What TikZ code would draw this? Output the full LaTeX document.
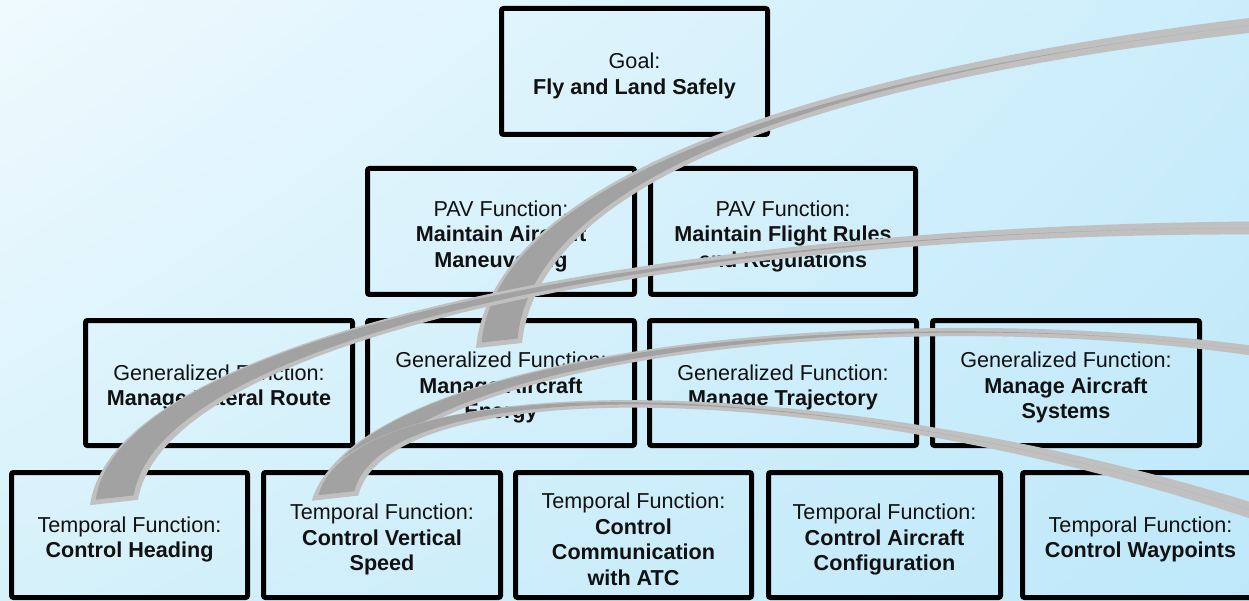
\documentclass[tikz,border=0pt]{standalone}
\usepackage{fontspec}
\setmainfont{Liberation Sans}
\usetikzlibrary{calc,shadings}

\definecolor{bgUL}{RGB}{239,250,254}
\definecolor{bgUR}{RGB}{203,237,251}
\definecolor{bgLL}{RGB}{214,241,250}
\definecolor{bgLR}{RGB}{190,232,250}
\definecolor{ribLight}{RGB}{192,192,192}
\definecolor{ribDark}{RGB}{162,162,162}
\definecolor{ink}{RGB}{17,17,17}

% Corner points of a tapered ribbon that follows the cubic (#1)..(#2)..(#3)..(#4):
% #5,#6,#7 = half widths at the first three control points,
% #8 = half width of the flat end, #9 = how far the flat end is pulled back.
\newcommand\ribbonpts[9]{%
  \path ($(#4)!#9pt!(#3)$) coordinate (rtip)
        ($(#1)!#5pt!90:(#2)$) coordinate (ra0)
        ($(#2)!#6pt!-90:(#1)$) coordinate (ra1)
        ($(#3)!#7pt!90:(rtip)$) coordinate (ra2)
        ($(rtip)+(#8,-0.11*#8)$) coordinate (ra3)
        ($(#1)!#5pt!-90:(#2)$) coordinate (rb0)
        ($(#2)!#6pt!90:(#1)$) coordinate (rb1)
        ($(#3)!#7pt!-90:(rtip)$) coordinate (rb2)
        ($(rtip)+(-#8,0.11*#8)$) coordinate (rb3);}
\newcommand\ribbonpath{(ra0) .. controls (ra1) and (ra2) .. (ra3) -- (rb3)
  .. controls (rb2) and (rb1) .. (rb0) -- cycle}

\tikzset{
  box/.style={draw=black, line width=5pt, rounded corners=2pt,
    minimum height=125pt, inner sep=0pt},
  lbl/.style={font=\fontsize{21.6}{25.5}\selectfont, align=center,
    text=ink, inner sep=0pt},
  riblight/.style={fill=ribLight},
  ribdark/.style={fill=ribDark},
}

\begin{document}
\begin{tikzpicture}[x=1pt, y=-1pt]
\useasboundingbox (0,0) rectangle (1249,601);
\clip (0,0) rectangle (1249,601);
\shade[upper left=bgUL, upper right=bgUR, lower left=bgLL, lower right=bgLR]
  (0,0) rectangle (1249,601);

% goal
\node[box, minimum width=266pt, minimum height=126pt] (goal) at (634.5,71.5) {};
\node[lbl] (goal-t) at ([yshift=-4.5pt]goal.center) {Goal:\\\textbf{Fly and Land Safely}};

% PAV functions
\node[box, minimum width=267pt, minimum height=126pt] (pav1) at (501,231.5) {};
\node[lbl] (pav1-t) at ([yshift=-4.5pt]pav1.center) {PAV Function:\\\textbf{Maintain Aircraft}\\\textbf{Maneuvering}};
\node[box, minimum width=265pt, minimum height=126pt] (pav2) at (783,231.5) {};
\node[lbl] (pav2-t) at ([yshift=-4.5pt]pav2.center) {PAV Function:\\\textbf{Maintain Flight Rules}\\\textbf{and Regulations}};

% generalized functions
\node[box, minimum width=267pt] (gen1) at (219,383) {};
\node[lbl] (gen1-t) at ([yshift=-4.5pt]gen1.center) {Generalized Function:\\\textbf{Manage Lateral Route}};
\node[box, minimum width=267pt] (gen2) at (501,383) {};
\node[lbl] (gen2-t) at ([yshift=-4.5pt]gen2.center) {Generalized Function:\\\textbf{Manage Aircraft}\\\textbf{Energy}};
\node[box, minimum width=267pt] (gen3) at (783,383) {};
\node[lbl] (gen3-t) at ([yshift=-4.5pt]gen3.center) {Generalized Function:\\\textbf{Manage Trajectory}};
\node[box, minimum width=267pt] (gen4) at (1066,383) {};
\node[lbl] (gen4-t) at ([yshift=-4.5pt]gen4.center) {Generalized Function:\\\textbf{Manage Aircraft}\\\textbf{Systems}};

% temporal functions
\node[box, minimum width=236pt] (tf1) at (129.5,535) {};
\node[lbl] (tf1-t) at ([yshift=-4.5pt]tf1.center) {Temporal Function:\\\textbf{Control Heading}};
\node[box, minimum width=237pt] (tf2) at (382,535) {};
\node[lbl] (tf2-t) at ([yshift=-4.5pt]tf2.center) {Temporal Function:\\\textbf{Control Vertical}\\\textbf{Speed}};
\node[box, minimum width=236pt] (tf3) at (633.5,535) {};
\node[lbl] (tf3-t) at ([yshift=-4.5pt]tf3.center) {Temporal Function:\\\textbf{Control}\\\textbf{Communication}\\\textbf{with ATC}};
\node[box, minimum width=232pt] (tf4) at (884.5,535) {};
\node[lbl] (tf4-t) at ([yshift=-4.5pt]tf4.center) {Temporal Function:\\\textbf{Control Aircraft}\\\textbf{Configuration}};
\node[box, minimum width=236pt] (tf5) at (1140.5,535) {};
\node[lbl] (tf5-t) at ([yshift=-4.5pt]tf5.center) {Temporal Function:\\\textbf{Control Waypoints}};

% curved ribbons entering from the right edge
\coordinate (a0) at (1262,24);  \coordinate (a1) at (762,82);
\coordinate (a2) at (514,196);  \coordinate (a3) at (499,345.5);
\coordinate (b0) at (1262,228); \coordinate (b1) at (700,228);
\coordinate (b2) at (140,330);  \coordinate (b3) at (114,502.5);
\coordinate (c0) at (1262,352); \coordinate (c1) at (900,300);
\coordinate (c2) at (380,350);  \coordinate (c3) at (335,498);
\coordinate (d0) at (1262,514); \coordinate (d1) at (820,370);
\coordinate (d2) at (370,370);  \coordinate (d3) at (335,498);

\ribbonpts{a0}{a1}{a2}{a3}{7.5}{5}{24}{23}{0}
\fill[riblight] \ribbonpath;
\ribbonpts{a0}{a1}{a2}{a3}{0}{0}{18}{18}{5}
\fill[ribdark] \ribbonpath;

\ribbonpts{b0}{b1}{b2}{b3}{6.5}{4}{26}{24}{0}
\fill[riblight] \ribbonpath;
\ribbonpts{b0}{b1}{b2}{b3}{0}{0}{20}{19}{5}
\fill[ribdark] \ribbonpath;

\ribbonpts{c0}{c1}{c2}{c3}{5}{3}{20}{23}{0}
\fill[riblight] \ribbonpath;
\ribbonpts{c0}{c1}{c2}{c3}{0}{0}{14}{18}{5}
\fill[ribdark] \ribbonpath;

\ribbonpts{d0}{d1}{d2}{d3}{8}{3.5}{20}{23}{0}
\fill[riblight] \ribbonpath;
\ribbonpts{d0}{d1}{d2}{d3}{0}{0}{14}{18}{5}
\fill[ribdark] \ribbonpath;
\end{tikzpicture}
\end{document}
